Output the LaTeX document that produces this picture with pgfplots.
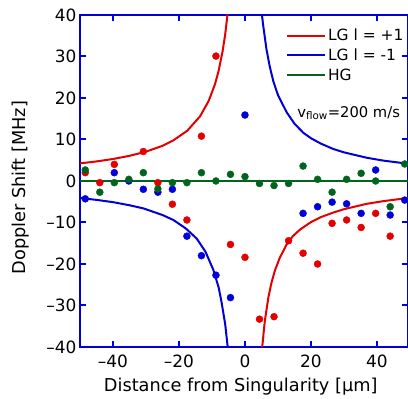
\documentclass[border=0pt]{standalone}
\usepackage{pgfplots}
\pgfplotsset{compat=1.18}
\usepackage{fontspec}
\setmainfont{DejaVu Sans}
\definecolor{cred}{RGB}{228,0,0}
\definecolor{cblue}{RGB}{0,0,215}
\definecolor{cgreen}{RGB}{0,100,30}
\begin{document}
\begin{tikzpicture}
\begin{axis}[
  scale only axis, width=328bp, height=332bp,
  xmin=-50, xmax=49.4, ymin=-40, ymax=40,
  axis line style={cblue, line width=2bp},
  tick style={cblue, line width=2bp},
  major tick length=6bp,
  tick align=inside,
  xtick={-40,-20,0,20,40}, xticklabels={–40,–20,0,20,40},
  ytick={-40,-30,-20,-10,0,10,20,30,40},
  yticklabels={–40,–30,–20,–10,0,10,20,30,40},
  ticklabel style={font=\fontsize{17}{20}\selectfont},
  xticklabel style={yshift=-4bp},
  xlabel={Distance from Singularity [µm]},
  ylabel={Doppler Shift [MHz]},
  label style={font=\fontsize{17.8}{20}\selectfont},
  xlabel style={at={(axis description cs:0.49,-0.118)}, anchor=center},
  ylabel style={at={(axis description cs:-0.18,0.48)}, anchor=center},
  clip=true,
  legend style={draw=none, fill=none, at={(axis cs:11.5,37.6)}, anchor=north west,
    font=\fontsize{15.5}{18}\selectfont, row sep=2.5bp},
  legend cell align=left,
  legend image code/.code={\draw[#1] (0bp,0bp) -- (38bp,0bp);},
]
\addplot[cred, line width=2bp] coordinates {
(-50,4.24) (-45,4.71) (-40,5.3) (-35,6.06) (-30,7.07) (-25,8.48) (-21.7,9.8)
(-17.5,12.1) (-13.6,15.6) (-11,19.3) (-9.1,23.3) (-8,26.5) (-6.8,31.2) (-6,35.3) (-5.2,40.8)};
\addlegendentry{LG l = +1}
\addplot[cblue, line width=2bp] coordinates {
(-50,-4.1) (-45,-4.55) (-40,-5.1) (-35,-5.85) (-30.8,-6.6) (-25,-8.2) (-21.7,-9.4)
(-18,-11.4) (-14.6,-13.9) (-12,-17.0) (-9.6,-21.4) (-8,-25.6) (-7.1,-29.2) (-6,-34.5) (-5.1,-41)};
\addlegendentry{LG l = -1}
\addplot[cgreen, line width=2bp] coordinates {(-50,0) (49.4,0)};
\addlegendentry{HG}
\addplot[cred, line width=2bp, forget plot] coordinates {
(5.1,-41) (6,-33.8) (7.1,-28.0) (8,-24.6) (9.1,-21.5) (10.5,-18.6) (12.6,-15.3) (14.5,-13.3)
(16.7,-11.7) (20,-9.9) (23,-8.7) (26.8,-7.6) (30,-6.8) (36.9,-5.5) (42,-4.85) (47.9,-4.25) (50,-4.1)};
\addplot[cblue, line width=2bp, forget plot] coordinates {
(5.0,41) (5.5,37.6) (6.5,31.8) (7.5,27.6) (8.6,24.0) (10,20.7) (12.6,16.6) (15,13.8)
(17.7,11.6) (20,10.3) (23,9.0) (26.8,7.7) (30,6.9) (36.9,5.6) (42,4.9) (48.5,4.25) (50,4.1)};
% data points
\addplot[only marks, mark=*, cred, mark size=3.5bp, forget plot] coordinates {
(-48.4,2.0) (-44,-0.4) (-39.6,4.0) (-30.8,7.1) (-26.4,-0.4) (-22,-5.6) (-17.6,-9.4)
(-13.2,10.8) (-8.8,30.1) (-4.4,-15.3) (0,-18.4) (4.4,-33.3) (8.8,-32.7) (13.2,-14.4)
(17.6,-17.4) (22,-20.0) (26.4,-10.2) (30.8,-9.4) (35.2,-11.2) (39.6,-7.8) (44,-13.3)};
\addplot[only marks, mark=*, cblue, mark size=3.5bp, forget plot] coordinates {
(-48.4,-4.3) (-39.6,2.0) (-35.2,0) (-30.8,-2.0) (-26.4,-2.7) (-22,-2.0) (-17.6,-13.3)
(-13.2,-18.0) (-8.8,-22.7) (-4.4,-28.1) (0,15.9) (17.6,-7.8) (22,-6.2) (26.4,-5.1)
(30.8,-5.5) (35.2,-7.8) (39.6,2.65) (44,-8.2) (48.4,-4.6)};
\addplot[only marks, mark=*, cgreen, mark size=3.5bp, forget plot] coordinates {
(-48.4,2.65) (-44,-2.7) (-39.6,-0.4) (-35.2,0.4) (-30.8,2.0) (-26.4,-1.9) (-22,-0.4)
(-17.6,-0.4) (-13.2,2.0) (-8.8,0) (-4.4,1.6) (0,1.05) (4.4,-0.6) (8.8,-1.1) (13.2,-0.6)
(17.6,3.6) (22,0.4) (26.4,-2.7) (30.8,0.4) (35.2,1.85) (39.6,0) (44,-6.2) (48.4,4.1)};
\node[anchor=base west, inner sep=0pt, font=\fontsize{14.8}{18}\selectfont]
  at (axis cs:15.8,15.4) {v\textsubscript{flow}=200 m/s};
\end{axis}
\pgfresetboundingbox
\path ([shift={(-80bp,-52bp)}]current axis.south west) rectangle ([shift={(0bp,15bp)}]current axis.north east);
\end{tikzpicture}
\end{document}
